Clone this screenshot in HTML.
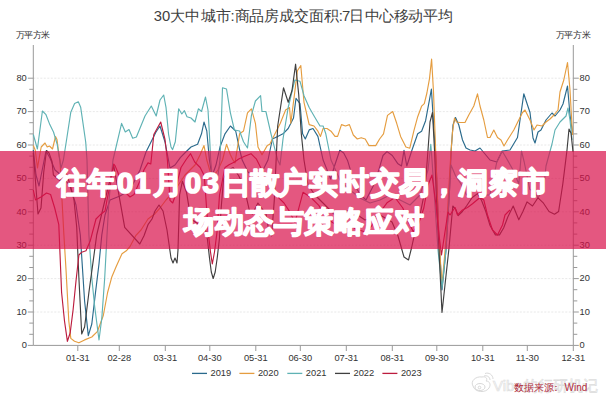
<!DOCTYPE html>
<html><head><meta charset="utf-8"><style>
html,body{margin:0;padding:0;background:#fff;}
body{width:606px;height:400px;overflow:hidden;position:relative;font-family:"Liberation Sans",sans-serif;}
svg{position:absolute;left:0;top:0;}
</style></head><body>
<svg width="606" height="400" viewBox="0 0 606 400" font-family="'Liberation Sans', sans-serif">
<text x="157.9 166.1 177.6 192.9 208.2 223 232.5 242 256.2 271.5 286.7 301.6 316.8 331.3 340.8 346.1 356.8 372.7 386.8 401.3 415.8 430.3 445.3" y="21" text-anchor="middle" font-size="14.8" fill="#404040" stroke="#404040" stroke-width="0">30大中城市:商品房成交面积:7日中心移动平均</text>
<text x="20.3 28.8 37.3 45.8" y="38" text-anchor="middle" font-size="9" fill="#333">万平方米</text>
<text x="560.3 568.9 577.5 586.1" y="38" text-anchor="middle" font-size="9" fill="#333">万平方米</text>
<g stroke="#e2e2e2" stroke-width="0.8" stroke-dasharray="2,1.5"><line x1="33.3" y1="312.0" x2="573.3" y2="312.0" /><line x1="33.3" y1="278.6" x2="573.3" y2="278.6" /><line x1="33.3" y1="245.2" x2="573.3" y2="245.2" /><line x1="33.3" y1="211.8" x2="573.3" y2="211.8" /><line x1="33.3" y1="178.4" x2="573.3" y2="178.4" /><line x1="33.3" y1="145.0" x2="573.3" y2="145.0" /><line x1="33.3" y1="111.6" x2="573.3" y2="111.6" /><line x1="33.3" y1="78.2" x2="573.3" y2="78.2" /></g>
<g stroke="#999" stroke-width="1">
<line x1="33.3" y1="45" x2="33.3" y2="345.4"/>
<line x1="573.3" y1="45" x2="573.3" y2="345.4"/>
<line x1="33.3" y1="345.4" x2="573.3" y2="345.4"/>
<line x1="27.799999999999997" y1="345.4" x2="33.3" y2="345.4" /><line x1="573.3" y1="345.4" x2="578.8" y2="345.4" /><line x1="29.299999999999997" y1="334.3" x2="33.3" y2="334.3" /><line x1="573.3" y1="334.3" x2="577.3" y2="334.3" /><line x1="29.299999999999997" y1="323.1" x2="33.3" y2="323.1" /><line x1="573.3" y1="323.1" x2="577.3" y2="323.1" /><line x1="27.799999999999997" y1="312.0" x2="33.3" y2="312.0" /><line x1="573.3" y1="312.0" x2="578.8" y2="312.0" /><line x1="29.299999999999997" y1="300.9" x2="33.3" y2="300.9" /><line x1="573.3" y1="300.9" x2="577.3" y2="300.9" /><line x1="29.299999999999997" y1="289.7" x2="33.3" y2="289.7" /><line x1="573.3" y1="289.7" x2="577.3" y2="289.7" /><line x1="27.799999999999997" y1="278.6" x2="33.3" y2="278.6" /><line x1="573.3" y1="278.6" x2="578.8" y2="278.6" /><line x1="29.299999999999997" y1="267.5" x2="33.3" y2="267.5" /><line x1="573.3" y1="267.5" x2="577.3" y2="267.5" /><line x1="29.299999999999997" y1="256.3" x2="33.3" y2="256.3" /><line x1="573.3" y1="256.3" x2="577.3" y2="256.3" /><line x1="27.799999999999997" y1="245.2" x2="33.3" y2="245.2" /><line x1="573.3" y1="245.2" x2="578.8" y2="245.2" /><line x1="29.299999999999997" y1="234.1" x2="33.3" y2="234.1" /><line x1="573.3" y1="234.1" x2="577.3" y2="234.1" /><line x1="29.299999999999997" y1="222.9" x2="33.3" y2="222.9" /><line x1="573.3" y1="222.9" x2="577.3" y2="222.9" /><line x1="27.799999999999997" y1="211.8" x2="33.3" y2="211.8" /><line x1="573.3" y1="211.8" x2="578.8" y2="211.8" /><line x1="29.299999999999997" y1="200.7" x2="33.3" y2="200.7" /><line x1="573.3" y1="200.7" x2="577.3" y2="200.7" /><line x1="29.299999999999997" y1="189.5" x2="33.3" y2="189.5" /><line x1="573.3" y1="189.5" x2="577.3" y2="189.5" /><line x1="27.799999999999997" y1="178.4" x2="33.3" y2="178.4" /><line x1="573.3" y1="178.4" x2="578.8" y2="178.4" /><line x1="29.299999999999997" y1="167.3" x2="33.3" y2="167.3" /><line x1="573.3" y1="167.3" x2="577.3" y2="167.3" /><line x1="29.299999999999997" y1="156.1" x2="33.3" y2="156.1" /><line x1="573.3" y1="156.1" x2="577.3" y2="156.1" /><line x1="27.799999999999997" y1="145.0" x2="33.3" y2="145.0" /><line x1="573.3" y1="145.0" x2="578.8" y2="145.0" /><line x1="29.299999999999997" y1="133.9" x2="33.3" y2="133.9" /><line x1="573.3" y1="133.9" x2="577.3" y2="133.9" /><line x1="29.299999999999997" y1="122.7" x2="33.3" y2="122.7" /><line x1="573.3" y1="122.7" x2="577.3" y2="122.7" /><line x1="27.799999999999997" y1="111.6" x2="33.3" y2="111.6" /><line x1="573.3" y1="111.6" x2="578.8" y2="111.6" /><line x1="29.299999999999997" y1="100.5" x2="33.3" y2="100.5" /><line x1="573.3" y1="100.5" x2="577.3" y2="100.5" /><line x1="29.299999999999997" y1="89.3" x2="33.3" y2="89.3" /><line x1="573.3" y1="89.3" x2="577.3" y2="89.3" /><line x1="27.799999999999997" y1="78.2" x2="33.3" y2="78.2" /><line x1="573.3" y1="78.2" x2="578.8" y2="78.2" /><line x1="77.8" y1="345.4" x2="77.8" y2="351" /><line x1="119.3" y1="345.4" x2="119.3" y2="351" /><line x1="165.3" y1="345.4" x2="165.3" y2="351" /><line x1="209.8" y1="345.4" x2="209.8" y2="351" /><line x1="255.8" y1="345.4" x2="255.8" y2="351" /><line x1="300.3" y1="345.4" x2="300.3" y2="351" /><line x1="346.3" y1="345.4" x2="346.3" y2="351" /><line x1="392.3" y1="345.4" x2="392.3" y2="351" /><line x1="436.8" y1="345.4" x2="436.8" y2="351" /><line x1="482.8" y1="345.4" x2="482.8" y2="351" /><line x1="527.3" y1="345.4" x2="527.3" y2="351" /><line x1="573.3" y1="345.4" x2="573.3" y2="351" />
</g>
<g font-size="9.3" fill="#333"><text x="26.799999999999997" y="348.2" text-anchor="end">0</text><text x="579.5999999999999" y="348.2" text-anchor="start">0</text><text x="26.799999999999997" y="314.8" text-anchor="end">10</text><text x="579.5999999999999" y="314.8" text-anchor="start">10</text><text x="26.799999999999997" y="281.40000000000003" text-anchor="end">20</text><text x="579.5999999999999" y="281.40000000000003" text-anchor="start">20</text><text x="26.799999999999997" y="248.0" text-anchor="end">30</text><text x="579.5999999999999" y="248.0" text-anchor="start">30</text><text x="26.799999999999997" y="214.60000000000002" text-anchor="end">40</text><text x="579.5999999999999" y="214.60000000000002" text-anchor="start">40</text><text x="26.799999999999997" y="181.20000000000002" text-anchor="end">50</text><text x="579.5999999999999" y="181.20000000000002" text-anchor="start">50</text><text x="26.799999999999997" y="147.8" text-anchor="end">60</text><text x="579.5999999999999" y="147.8" text-anchor="start">60</text><text x="26.799999999999997" y="114.39999999999999" text-anchor="end">70</text><text x="579.5999999999999" y="114.39999999999999" text-anchor="start">70</text><text x="26.799999999999997" y="81.0" text-anchor="end">80</text><text x="579.5999999999999" y="81.0" text-anchor="start">80</text></g>
<g font-size="9.3" fill="#333"><text x="77.8" y="360.5" text-anchor="middle">01-31</text><text x="119.3" y="360.5" text-anchor="middle">02-28</text><text x="165.3" y="360.5" text-anchor="middle">03-31</text><text x="209.8" y="360.5" text-anchor="middle">04-30</text><text x="255.8" y="360.5" text-anchor="middle">05-31</text><text x="300.3" y="360.5" text-anchor="middle">06-30</text><text x="346.3" y="360.5" text-anchor="middle">07-31</text><text x="392.3" y="360.5" text-anchor="middle">08-31</text><text x="436.8" y="360.5" text-anchor="middle">09-30</text><text x="482.8" y="360.5" text-anchor="middle">10-31</text><text x="527.3" y="360.5" text-anchor="middle">11-30</text><text x="573.3" y="360.5" text-anchor="middle">12-31</text></g>
<g fill="none" stroke-width="1.15" stroke-linejoin="round"><polyline points="33.3,150.0 36.0,175.0 39.0,186.0 43.0,166.0 46.0,151.0 50.0,158.0 55.0,170.0 62.0,176.0 70.0,186.0 76.0,205.0 80.3,235.0 84.6,301.0 88.3,335.6 91.8,324.0 95.5,292.5 99.0,263.7 101.8,235.0 105.0,215.0 110.0,200.0 120.0,196.0 130.0,190.0 140.0,170.0 146.0,152.0 152.0,140.0 156.0,132.0 160.0,126.0 165.0,142.0 170.0,168.0 175.0,165.0 180.5,157.4 185.8,152.0 191.0,147.0 197.6,144.3 201.5,133.8 204.0,122.0 206.8,131.0 209.4,160.0 212.0,176.0 216.0,165.0 220.0,147.0 225.0,133.8 230.4,126.0 235.7,131.0 239.6,149.6 242.2,160.0 248.0,172.0 255.0,178.0 262.0,172.0 268.0,160.0 272.4,139.0 277.7,136.4 283.0,133.8 288.2,128.5 293.5,118.0 296.0,98.3 300.0,103.6 302.6,133.8 305.3,139.0 309.2,129.9 313.0,128.5 317.9,136.4 323.1,160.0 326.6,168.6 330.6,179.0 334.5,166.0 339.8,150.3 343.7,152.9 347.7,160.8 351.6,173.9 355.5,187.0 360.8,195.0 366.0,200.0 370.0,192.3 374.0,184.4 379.2,168.6 383.0,155.5 387.0,151.6 392.3,155.5 397.6,163.4 401.5,166.0 404.0,150.3 406.8,166.0 412.0,150.0 417.7,133.8 421.6,131.2 425.6,120.7 429.5,99.7 431.4,89.0 433.5,123.3 436.0,160.0 439.0,240.0 442.0,290.0 446.0,250.0 449.5,190.0 451.2,150.0 453.0,125.0 455.5,117.5 458.8,125.0 462.5,140.0 466.0,148.0 470.0,150.0 475.0,151.0 480.0,148.0 490.0,160.0 496.8,162.0 502.2,151.0 510.0,150.0 517.5,137.5 523.8,93.8 527.5,105.0 530.0,112.5 533.0,138.0 535.0,143.0 538.0,132.0 541.0,130.0 546.0,120.0 552.0,113.0 555.0,116.0 560.0,110.0 563.0,104.0 567.5,86.0 570.0,115.0 572.5,132.5" stroke="#2a6a8c" /><polyline points="33.3,145.5 35.2,150.0 37.5,168.0 39.0,159.0 41.2,147.0 45.0,143.0 47.2,147.0 49.5,146.0 52.5,149.0 55.5,136.5 57.0,139.5 58.5,151.5 60.0,160.5 62.0,200.0 63.9,235.0 66.0,269.5 68.8,321.0 70.8,338.4 74.5,341.3 78.9,342.8 84.6,339.9 91.8,337.0 97.5,331.3 103.3,315.5 107.6,292.5 111.9,276.7 116.2,266.6 122.0,253.7 126.3,250.8 130.0,246.5 135.7,235.7 141.0,230.0 148.0,219.0 155.0,213.7 160.0,208.0 166.0,200.0 175.0,190.0 185.0,175.0 195.0,165.0 200.0,155.0 204.0,145.6 206.8,160.0 212.0,178.0 218.0,170.0 222.5,160.0 226.5,144.3 230.4,154.8 233.0,160.0 235.0,163.0 239.6,133.8 243.5,131.0 247.5,112.8 251.4,108.8 255.4,123.3 258.0,147.0 262.0,154.8 267.2,145.6 269.8,144.3 275.0,133.8 280.3,123.3 285.6,110.0 289.5,107.5 290.8,123.3 294.8,91.8 297.4,70.8 300.8,65.5 304.0,102.3 309.2,124.6 314.0,126.0 317.9,131.2 320.5,136.4 323.1,128.5 327.0,128.5 331.0,131.2 335.0,136.4 337.6,136.4 341.5,124.6 345.5,126.0 349.4,124.6 353.3,135.0 357.3,139.0 361.2,137.7 365.2,139.0 369.0,145.6 375.7,145.6 379.6,139.0 383.5,133.8 387.5,115.4 392.7,111.5 396.7,123.3 400.6,136.4 405.9,147.0 409.8,148.2 413.8,131.2 417.7,116.7 421.6,106.2 424.3,103.6 426.9,93.0 429.5,78.6 431.6,59.0 433.5,91.8 436.0,160.0 439.0,240.0 442.0,285.0 446.0,240.0 449.0,185.0 450.8,155.0 452.5,132.0 454.5,118.0 456.5,122.0 460.0,122.5 465.0,122.5 468.8,115.0 473.8,106.0 477.5,93.8 480.0,106.0 483.8,120.0 487.5,137.5 490.0,137.5 493.8,130.0 497.5,137.5 501.0,140.0 504.0,146.0 507.5,140.0 513.8,130.0 517.5,122.5 522.5,112.5 525.0,110.0 530.0,120.0 534.0,130.0 537.0,125.0 542.0,126.0 546.0,122.0 550.0,119.0 554.0,115.0 558.0,110.0 560.0,92.0 563.8,80.0 567.5,62.5 570.0,90.0 572.5,135.0" stroke="#e59d40" /><polyline points="33.3,134.5 37.4,149.0 42.4,111.0 46.0,114.7 49.8,124.6 53.5,132.0 57.2,144.4 59.7,160.0 61.0,168.0 63.4,160.0 67.0,137.0 70.8,112.2 74.6,103.6 78.3,101.8 80.7,107.3 83.2,124.6 85.7,142.0 87.0,160.0 88.9,235.0 91.8,278.0 94.7,306.8 99.0,340.0 101.8,318.3 104.7,278.0 107.0,235.0 109.0,200.0 113.0,160.0 121.6,123.4 125.3,132.0 129.0,129.5 132.7,138.2 136.4,137.0 145.0,116.0 151.3,106.0 156.2,116.0 160.0,100.0 163.7,95.0 166.0,107.3 168.6,134.5 171.0,147.0 172.6,149.6 175.3,141.7 178.7,108.8 181.8,114.0 184.4,110.7 187.0,116.7 191.0,118.0 195.0,122.0 198.4,108.8 201.5,111.5 205.5,97.0 208.0,110.0 209.4,133.8 210.7,160.0 213.0,185.0 218.0,175.0 220.0,160.0 222.5,87.8 226.5,89.0 230.4,112.8 234.4,130.0 239.6,131.0 243.5,141.7 247.5,148.0 251.4,115.4 255.4,101.0 260.6,95.7 262.0,111.5 265.9,111.5 271.0,133.8 275.0,149.6 277.7,160.0 280.0,165.0 283.0,139.0 288.2,107.5 294.8,80.0 300.0,81.3 304.0,95.7 309.2,107.5 314.5,116.7 320.0,126.0 323.1,126.0 325.8,133.8 328.4,147.0 331.0,160.0 340.0,180.0 350.0,190.0 360.0,198.0 370.0,203.0 380.0,200.0 390.0,195.0 400.0,200.0 410.0,205.0 420.0,195.0 428.0,170.0 430.8,144.3 432.0,160.0 438.0,250.0 442.0,288.0 446.0,250.0 451.0,165.0 455.5,175.8 461.0,184.0 466.5,195.0 476.0,186.8 480.2,181.2 485.8,195.0 489.9,195.0 496.8,162.0 502.2,151.0 507.8,160.6 513.2,170.2 518.8,184.0 521.5,151.0 524.2,162.0 529.8,189.5 533.9,190.9 538.0,197.8 543.5,189.5 546.0,166.0 552.0,144.0 555.0,130.0 560.0,122.0 564.0,118.0 566.0,116.0 568.0,108.0 570.0,120.0 572.0,140.0" stroke="#5fb2b4" /><polyline points="33.3,153.0 38.0,214.0 41.0,208.0 43.7,172.5 46.5,150.5 49.0,153.0 52.0,161.5 53.4,175.0 60.0,180.7 63.0,178.0 65.7,172.5 69.8,183.5 74.0,200.0 76.7,227.0 78.9,278.0 81.7,334.0 84.6,327.0 88.9,292.5 93.2,260.9 96.7,235.0 105.0,200.0 113.7,165.6 124.7,227.4 139.8,244.0 144.0,235.7 148.0,224.7 152.0,219.0 155.0,211.0 159.0,205.0 163.0,211.0 167.0,230.0 171.0,258.0 173.0,263.0 175.0,258.0 177.0,263.0 178.0,250.0 179.6,195.0 182.4,181.2 186.5,192.2 189.2,208.7 192.0,219.7 196.0,222.4 200.2,225.0 205.7,230.7 207.5,240.0 209.5,258.0 211.3,272.0 213.2,278.5 215.2,272.0 217.2,258.0 219.5,238.0 221.0,210.0 223.6,178.5 227.7,170.2 233.2,167.5 238.7,175.7 244.0,186.7 249.6,211.4 252.4,214.0 255.0,208.7 257.9,203.0 262.0,208.7 266.0,214.0 268.8,230.7 271.6,236.0 274.3,200.0 277.7,126.0 283.5,87.8 288.2,102.3 292.0,90.5 295.6,64.2 298.7,94.4 301.3,133.8 304.0,160.0 308.0,185.0 315.0,195.0 325.0,205.0 335.0,215.0 350.0,210.0 365.0,220.0 380.0,215.0 392.0,222.0 398.0,236.0 404.0,257.0 408.5,260.0 411.5,248.0 414.5,234.5 420.0,215.0 425.0,190.0 428.0,150.0 430.0,122.0 432.5,112.5 434.5,150.0 436.5,200.0 438.5,240.0 442.0,312.5 449.0,248.0 452.8,206.0 455.5,208.8 458.2,215.6 462.4,211.5 466.5,206.0 472.0,197.8 477.5,193.6 481.6,200.5 485.8,211.5 489.9,225.2 495.4,234.9 499.5,234.9 503.6,228.0 507.8,217.0 513.2,206.0 518.8,219.8 522.9,211.5 527.0,201.9 532.5,206.0 538.0,197.8 543.5,203.2 549.0,211.5 554.5,214.2 558.6,211.5 562.8,184.0 567.0,150.0 569.0,129.0 571.0,133.0 573.0,152.0" stroke="#404040" /><polyline points="33.3,190.0 35.5,200.0 41.0,197.0 46.5,193.0 50.6,194.5 54.7,208.0 58.8,224.7 61.6,292.5 64.5,321.0 67.4,341.3 70.2,332.7 73.1,309.7 76.0,281.0 78.9,255.0 81.7,252.2 86.0,250.8 90.3,240.7 96.0,219.0 101.4,213.7 105.0,211.0 107.0,200.0 111.0,180.7 113.7,164.0 115.0,165.6 117.9,172.5 122.0,186.0 126.0,193.0 130.0,197.0 134.0,194.5 140.0,180.7 144.0,169.7 148.0,162.9 150.8,164.0 153.8,134.5 160.7,122.0 165.0,139.5 167.4,160.0 170.0,200.4 172.7,203.0 175.5,195.0 178.2,178.5 181.0,167.5 186.5,159.0 190.6,153.7 194.7,162.0 200.2,167.5 204.3,175.7 206.0,200.0 208.5,235.0 210.5,252.0 212.3,264.0 214.5,252.0 217.0,232.0 219.5,195.0 225.0,167.5 229.0,164.7 234.6,162.0 238.7,159.0 244.0,156.5 251.0,153.7 256.5,159.2 262.0,170.2 267.5,184.0 273.0,192.2 278.5,197.7 284.0,203.0 289.5,211.4 295.0,222.4 303.0,192.3 310.9,197.5 318.8,205.4 326.6,218.5 334.5,223.8 342.4,221.2 349.0,223.8 355.5,229.0 364.7,231.7 371.3,226.4 379.2,213.3 387.0,202.8 395.0,197.5 402.8,208.0 408.0,221.2 413.3,231.7 418.6,223.8 423.8,208.0 428.0,185.0 432.0,175.0 436.0,205.0 439.0,235.0 441.5,255.0 444.5,235.0 448.0,212.0 450.0,215.0 455.0,207.5 457.5,215.0 462.5,210.0 467.5,207.5 472.5,203.8 480.0,197.5 483.8,200.0 487.5,215.0 492.5,230.0 497.5,235.0 502.5,225.0 505.0,215.0 510.0,210.0" stroke="#bc1c3e" /></g>
<g font-size="9.3" fill="#333"><line x1="192" y1="373.4" x2="207" y2="373.4" stroke="#2a6a8c" stroke-width="1.3"/><text x="210.5" y="376">2019</text><line x1="239.4" y1="373.4" x2="254.4" y2="373.4" stroke="#e59d40" stroke-width="1.3"/><text x="257.9" y="376">2020</text><line x1="287.3" y1="373.4" x2="302.3" y2="373.4" stroke="#5fb2b4" stroke-width="1.3"/><text x="305.8" y="376">2021</text><line x1="335" y1="373.4" x2="350" y2="373.4" stroke="#404040" stroke-width="1.3"/><text x="353.5" y="376">2022</text><line x1="382.4" y1="373.4" x2="397.4" y2="373.4" stroke="#bc1c3e" stroke-width="1.3"/><text x="400.9" y="376">2023</text></g>
<g fill="none" stroke="#d4d4d4" stroke-width="0.9"><path d="M473,386 C470,381 476,376 482,377 C486,376 488,379 486,381 C490,381 491,385 489,388 C486,393 475,393 473,386 Z"/><ellipse cx="480" cy="387" rx="5" ry="3.5"/><circle cx="479.5" cy="387.5" r="1.3"/><path d="M484,376 C487,375 490,377 490,380"/><path d="M485,373.5 C489,372 493,375 493,379"/></g>
<text x="493" y="391" font-size="15" fill="#fafafa" stroke="#dcdcdc" stroke-width="0.6">Vibe</text>
<text x="530.5 545.5 560.5 575.5 590.5" y="391" text-anchor="middle" font-size="15" fill="#fafafa" stroke="#dcdcdc" stroke-width="0.6">的行研机记</text>
<text x="519 529 539 549 556" y="391" text-anchor="middle" font-size="10" fill="#b02a3a">数据来源：</text>
<text x="564.5" y="391" font-size="10" fill="#b02a3a">Wind</text>
<rect x="0" y="151" width="606" height="98" fill="rgb(216,16,74)" fill-opacity="0.7"/>
<text x="72.3 101.6 125.2 142.5 168.1 193 210.7 235.8 264.8 293 323.4 354 384.5 414.2 444 473.4 504 533.7" y="193" text-anchor="middle" font-size="29.5" font-weight="bold" fill="#fff" stroke="#fff" stroke-width="1.6" stroke-linejoin="round">往年01月03日散户实时交易，洞察市</text>
<text x="198.5 228.5 258.5 288.5 318.5 348.5 378.5 408.5" y="231.5" text-anchor="middle" font-size="29.5" font-weight="bold" fill="#fff" stroke="#fff" stroke-width="1.6" stroke-linejoin="round">场动态与策略应对</text>
</svg>
</body></html>
